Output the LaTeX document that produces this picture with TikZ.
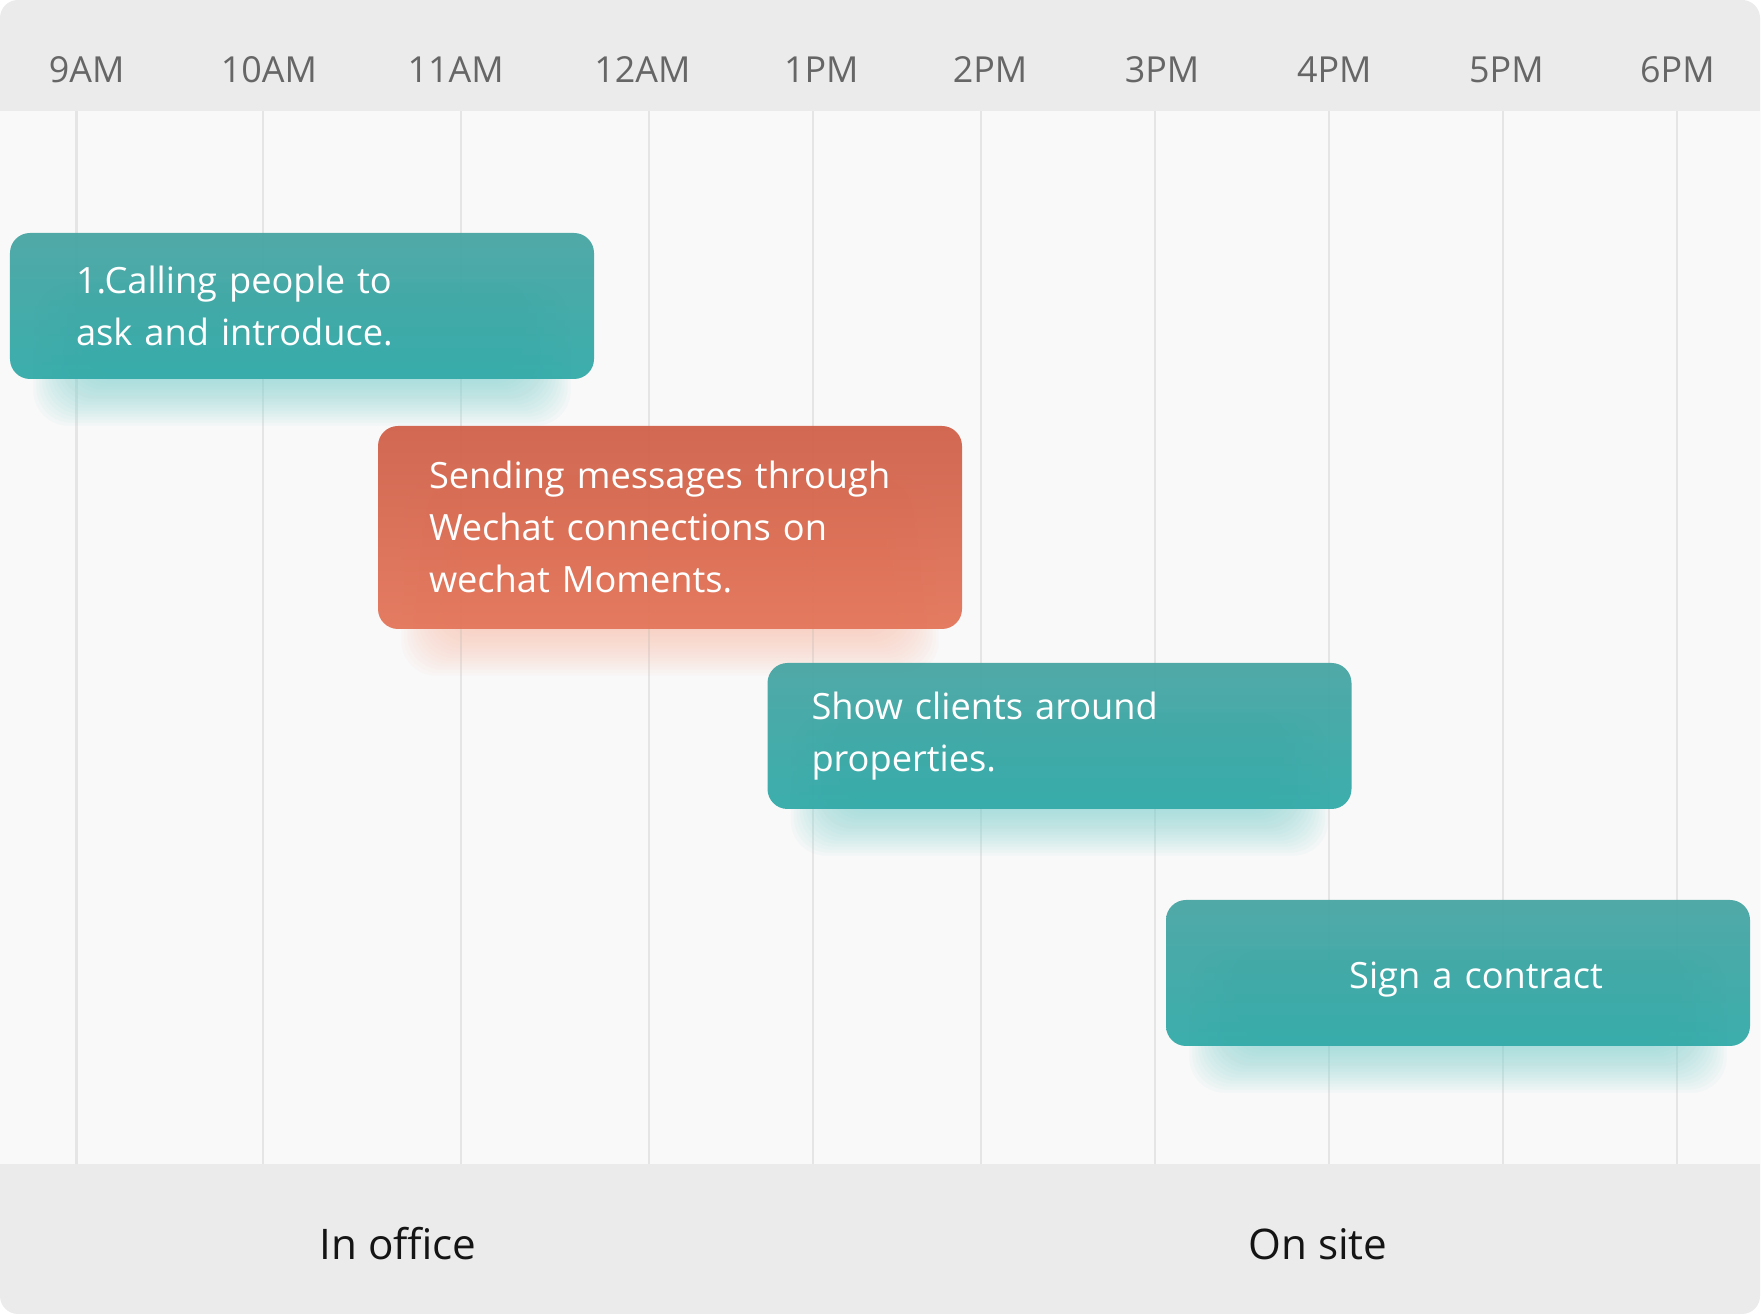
\documentclass[tikz,border=0pt]{standalone}
\usepackage{fontspec}
\setmainfont{Open Sans}
\usetikzlibrary{calc}
\definecolor{headgray}{HTML}{EBEBEB}
\definecolor{bodygray}{HTML}{F9F9F9}
\definecolor{gridgray}{HTML}{E5E5E5}
\definecolor{labelgray}{HTML}{666666}
\definecolor{tealtop}{HTML}{47A5A3}
\definecolor{tealbot}{HTML}{32AAA8}
\definecolor{tealglow}{HTML}{7FD3D1}
\definecolor{orangetop}{HTML}{D0614A}
\definecolor{orangebot}{HTML}{E3765A}
\definecolor{orangeglow}{HTML}{F8C0AC}
\pgfdeclarelayer{card}
\pgfdeclarelayer{glow}
\pgfsetlayers{card,glow,main}

\tikzset{
  task/.style={rectangle, rounded corners=0.2cm, minimum width=5.84cm, text=white,
    font=\fontsize{10.3}{14.8}\selectfont, inner ysep=0pt, fill opacity=0.95, text opacity=1},
  tealtask/.style={task, top color=tealtop, bottom color=tealbot},
  orangetask/.style={task, top color=orangetop, bottom color=orangebot},
  hour/.style={text=labelgray, font=\fontsize{10.2}{12}\selectfont},
  place/.style={text=black!92, font=\fontsize{12}{14}\selectfont}
}

% soft glow under a task box
\newcommand{\taskglow}[2]{%
  \foreach \r in {0,0.03,...,0.52}
    \fill[#2, fill opacity=0.055, rounded corners=0.35cm]
      ($(#1.south west)+(0.75-\r,0.05-\r)$) rectangle ($(#1.north east)+(-0.75+\r,-0.5)$);
}

\begin{document}
\begin{tikzpicture}
    \useasboundingbox (0,0) rectangle (17.64,13.14);

    % card
    \begin{pgfonlayer}{card}
        \fill[headgray, rounded corners=0.18cm] (0,0) rectangle (17.60,13.14);
        \fill[bodygray] (0,1.50) rectangle (17.60,12.03);
        % hour lines
        \foreach \gx in {0.765,2.633,4.613,6.491,8.134,9.81,11.554,13.286,15.03,16.774}
            \draw[gridgray, line width=0.6pt] (\gx,1.50) -- (\gx,12.03);
    \end{pgfonlayer}

    % hour labels
    \foreach \lx/\hr [count=\i] in {0.866/9AM, 2.689/10AM, 4.556/11AM, 6.424/12AM, 8.213/1PM,
                                     9.90/2PM, 11.621/3PM, 13.343/4PM, 15.064/5PM, 16.774/6PM}
        \node[hour] (h\i) at (\lx,12.44) {\hr};

    % tasks
    \node[tealtask, minimum height=1.46cm, inner xsep=0.66cm, text width=4.52cm, align=left]
        (call) at (3.02,10.08) {1.Calling people to\\ask and introduce.};
    \node[orangetask, minimum height=2.03cm, inner xsep=0.51cm, text width=4.82cm, align=left]
        (send) at (6.70,7.865) {Sending messages through\\Wechat connections on\\wechat Moments.};
    \node[tealtask, minimum height=1.46cm, inner xsep=0.44cm, text width=4.96cm, align=left]
        (show) at (10.595,5.78) {Show clients around\\properties.};
    \node[tealtask, minimum height=1.46cm, inner xsep=0.3cm, text width=5.24cm, align=center]
        (sign) at (14.58,3.41) {\hspace*{0.36cm}\raisebox{-0.07cm}[\height][\depth]{Sign a contract}};

    % glows
    \begin{pgfonlayer}{glow}
        \taskglow{call}{tealglow}
        \taskglow{send}{orangeglow}
        \taskglow{show}{tealglow}
        \taskglow{sign}{tealglow}
    \end{pgfonlayer}

    % places
    \node[place] (office) at (3.98,0.70) {In office};
    \node[place] (site) at (13.18,0.70) {On site};
\end{tikzpicture}
\end{document}
